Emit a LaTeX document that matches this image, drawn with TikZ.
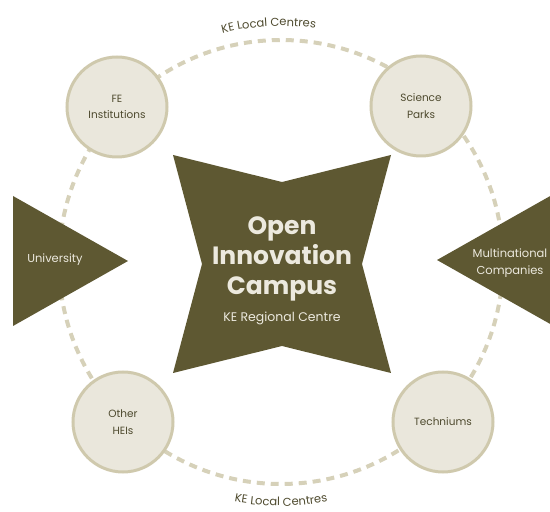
\documentclass[tikz,border=0pt]{standalone}
\usepackage{fontspec}
\setmainfont{Poppins}
\usetikzlibrary{positioning, decorations.text}

\definecolor{kedark}{RGB}{94,88,50}
\definecolor{kefill}{RGB}{234,231,220}
\definecolor{kering}{RGB}{207,201,173}
\definecolor{kedash}{RGB}{214,209,185}
\definecolor{kelight}{RGB}{236,233,222}
\definecolor{ketext}{RGB}{78,74,46}

\begin{document}
\begin{tikzpicture}[
    x=1pt, y=1pt,
    ring/.style={
        draw=kedash,
        line width=4pt,
        dash pattern=on 8pt off 6pt
    },
    partner/.style={
        circle,
        draw=kering,
        line width=3pt,
        fill=kefill,
        minimum size=100pt,
        inner sep=0pt,
        align=center,
        text=ketext,
        font=\fontsize{10.5}{16.5}\selectfont
    },
    wedge/.style={fill=kedark},
    wedgelabel/.style={
        align=center,
        text=kelight,
        font=\fontsize{11.5}{17}\selectfont
    },
    title/.style={
        align=center,
        text=kelight,
        font=\bfseries\fontsize{25}{30}\selectfont
    },
    arclabel/.style={
        decorate,
        decoration={
            text along path,
            text align=center,
            text={|\fontsize{11.5}{12}\selectfont\color{ketext}|KE Local Centres}
        }
    }
]
\useasboundingbox (0,0) rectangle (550,512);

% Dashed ring of local centres
\coordinate (hub) at (281,250);
\draw[ring] (hub) circle[radius=222];

% Curved labels on the ring
\path[arclabel] ([shift={(121:236)}]hub) arc[start angle=121, end angle=65, radius=236];
\path[arclabel] ([shift={(242:244)}]hub) arc[start angle=242, end angle=298, radius=244];

% Side wedges
\fill[wedge] (13,316) -- (128,251) -- (13,186) -- cycle;
\fill[wedge] (552,317) -- (437,252) -- (552,187) -- cycle;
\node[wedgelabel] (university) at (55,252) {University};
\node[wedgelabel] (multinational) at (510,249) {Multinational\\Companies};

% Partner circles
\node[partner] (fe) at (117,405) {FE\\Institutions};
\node[partner] (parks) at (421,406) {Science\\Parks};
\node[partner] (heis) at (123,90) {Other\\HEIs};
\node[partner] (techniums) at (443,90) {Techniums};

% Central star
\fill[wedge, shift={(282,248)}]
    (-109,-109) -- (-80,0) -- (-109,109) -- (0,82) --
    (109,109) -- (80,0) -- (109,-109) -- (0,-82) -- cycle;
\node[title] (campus) at (282,253) {Open\\Innovation\\Campus};
\node[wedgelabel, font=\fontsize{12.5}{15}\selectfont, below=4pt of campus] (regional) {KE Regional Centre};

\end{tikzpicture}
\end{document}
